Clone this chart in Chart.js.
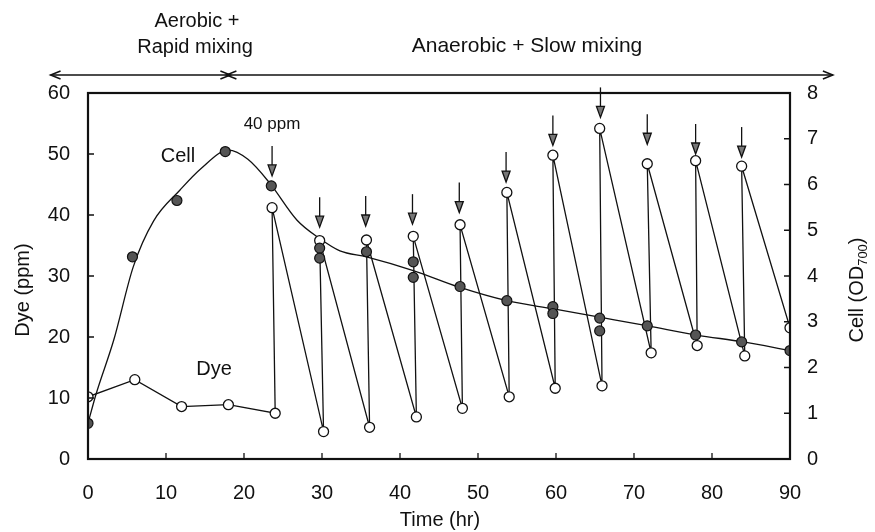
<!DOCTYPE html>
<html>
<head>
<meta charset="utf-8">
<script src="https://cdn.jsdelivr.net/npm/chart.js@4.4.0/dist/chart.umd.min.js"></script>
<style>
  html, body { margin: 0; padding: 0; background: #fff; }
  #wrap { width: 875px; height: 532px; }
</style>
</head>
<body>
<div id="wrap"><canvas id="c" width="875" height="532"></canvas></div>
<script>
// ---- values ----
// dye (ppm), open circles; each feed time has a low point then the high point after feeding
const dyeTime = [0, 6, 12, 18, 24, 23.6, 30.2, 29.7, 36.1, 35.7, 42.1, 41.7, 48, 47.7, 54, 53.7, 59.9, 59.6, 65.9, 65.6, 72.2, 71.7, 78.1, 77.9, 84.2, 83.8, 90];
const dyePpm  = [10.2, 13.0, 8.6, 8.9, 7.5, 41.2, 4.5, 35.8, 5.2, 35.9, 6.9, 36.5, 8.3, 38.4, 10.2, 43.7, 11.6, 49.8, 12.0, 54.2, 17.4, 48.4, 18.6, 48.9, 16.9, 48.0, 21.5];

// cell (OD700), filled circles
const cellTime = [0, 5.7, 11.4, 17.6, 23.5, 29.7, 29.7, 35.7, 41.7, 41.7, 47.7, 53.7, 59.6, 59.6, 65.6, 65.6, 71.7, 77.9, 83.8, 90];
const cellOd   = [0.78, 4.42, 5.65, 6.72, 5.97, 4.61, 4.39, 4.53, 4.31, 3.97, 3.77, 3.46, 3.33, 3.18, 3.08, 2.80, 2.91, 2.71, 2.56, 2.37];

// smooth cell curve
const curveTime = [0, 1, 3.3, 5.8, 8.4, 11.8, 14.5, 18, 20.5, 23.3, 26.8, 29.7, 32.3, 35.7, 41.7, 47.7, 53.7, 59.7, 65.6, 71.8, 78, 84, 90];
const curveOd   = [0.78, 1.4, 2.6, 4.2, 5.2, 5.88, 6.35, 6.75, 6.55, 6.03, 5.22, 4.82, 4.55, 4.42, 4.12, 3.75, 3.46, 3.28, 3.1, 2.91, 2.71, 2.56, 2.37];

// 40 ppm feed arrows: time and arrow tip (ppm)
const addTime     = [23.6, 29.7, 35.6, 41.6, 47.6, 53.6, 59.6, 65.7, 71.7, 77.9, 83.8];
const arrowTipPpm = [46.4, 38.0, 38.2, 38.5, 40.4, 45.4, 51.4, 56.0, 51.6, 50.0, 49.5];

// top phase bar (hr)
const phaseStart = -4.8, phaseSwitch = 18, phaseEnd = 95.5;

const FONT = '"Liberation Sans", Arial, Helvetica, sans-serif';
const INK = '#111';

function pts(xs, ys) {
    return xs.map((x, i) => ({ x: x, y: ys[i] }));
}

function vHead(ctx, x, y, dir) {
    // open arrow head, dir = 1 points right, -1 points left
    ctx.beginPath();
    ctx.moveTo(x - dir * 10, y - 4);
    ctx.lineTo(x, y);
    ctx.lineTo(x - dir * 10, y + 4);
    ctx.stroke();
}

// frame, inward ticks, feed arrows and the texts
const decor = {
    id: 'decor',
    afterDatasetsDraw(chart) {
        const { ctx, chartArea: a, scales } = chart;
        const x = scales.x, y = scales.y, y1 = scales.y1;
        ctx.save();
        ctx.strokeStyle = INK;
        ctx.fillStyle = INK;

        ctx.lineWidth = 2.2;
        ctx.strokeRect(a.left, a.top, a.right - a.left, a.bottom - a.top);

        ctx.lineWidth = 1.3;
        ctx.beginPath();
        x.ticks.forEach(t => {
            if (t.value <= x.min || t.value >= x.max) return;
            const p = x.getPixelForValue(t.value);
            ctx.moveTo(p, a.bottom); ctx.lineTo(p, a.bottom - 6);
        });
        y.ticks.forEach(t => {
            if (t.value <= y.min || t.value >= y.max) return;
            const p = y.getPixelForValue(t.value);
            ctx.moveTo(a.left, p); ctx.lineTo(a.left + 6, p);
        });
        y1.ticks.forEach(t => {
            if (t.value <= y1.min || t.value >= y1.max) return;
            const p = y1.getPixelForValue(t.value);
            ctx.moveTo(a.right, p); ctx.lineTo(a.right - 6, p);
        });
        ctx.stroke();

        // feed arrows
        addTime.forEach((t, i) => {
            const px = x.getPixelForValue(t);
            const tip = y.getPixelForValue(arrowTipPpm[i]);
            ctx.lineWidth = 1.3;
            ctx.beginPath();
            ctx.moveTo(px, tip - 30);
            ctx.lineTo(px, tip - 9);
            ctx.stroke();
            ctx.beginPath();
            ctx.moveTo(px - 4, tip - 11);
            ctx.lineTo(px + 4, tip - 11);
            ctx.lineTo(px, tip);
            ctx.closePath();
            ctx.fillStyle = '#777';
            ctx.fill();
            ctx.stroke();
        });
        ctx.restore();
    },
    afterDraw(chart) {
        const { ctx, scales } = chart;
        const x = scales.x;
        ctx.save();
        ctx.fillStyle = INK;
        ctx.strokeStyle = INK;
        ctx.textAlign = 'center';
        ctx.textBaseline = 'middle';

        // labels inside the plot
        ctx.font = '20px ' + FONT;
        ctx.fillText('Cell', 178, 156);
        ctx.fillText('Dye', 214, 369);
        ctx.font = '17px ' + FONT;
        ctx.fillText('40 ppm', 272, 124);

        // phase texts
        ctx.font = '20px ' + FONT;
        ctx.fillText('Aerobic +', 197, 21);
        ctx.fillText('Rapid mixing', 195, 47);
        ctx.font = '21px ' + FONT;
        ctx.fillText('Anaerobic + Slow mixing', 527, 46);

        // phase bar
        const barY = 75;
        const xs = x.getPixelForValue(phaseStart);
        const xm = x.getPixelForValue(phaseSwitch);
        const xe = x.getPixelForValue(phaseEnd);
        ctx.lineWidth = 1.5;
        ctx.beginPath();
        ctx.moveTo(xs, barY); ctx.lineTo(xe, barY);
        ctx.stroke();
        vHead(ctx, xs, barY, -1);
        vHead(ctx, xm + 2, barY, 1);
        vHead(ctx, xm - 2, barY, -1);
        vHead(ctx, xe, barY, 1);

        // axis titles
        ctx.font = '20px ' + FONT;
        ctx.fillText('Time (hr)', 440, 520);

        ctx.save();
        ctx.translate(23, 290);
        ctx.rotate(-Math.PI / 2);
        ctx.fillText('Dye (ppm)', 0, 0);
        ctx.restore();

        ctx.save();
        ctx.translate(857, 290);
        ctx.rotate(-Math.PI / 2);
        ctx.textAlign = 'left';
        const big = '20px ' + FONT, small = '13px ' + FONT;
        ctx.font = big;
        const w1 = ctx.measureText('Cell (OD').width;
        const w3 = ctx.measureText(')').width;
        ctx.font = small;
        const w2 = ctx.measureText('700').width;
        let cx = -(w1 + w2 + w3) / 2;
        ctx.font = big;
        ctx.fillText('Cell (OD', cx, 0);
        cx += w1;
        ctx.font = small;
        ctx.fillText('700', cx, 6);
        cx += w2;
        ctx.font = big;
        ctx.fillText(')', cx, 0);
        ctx.restore();

        ctx.restore();
    }
};

const tickFont = { family: FONT, size: 20 };

new Chart(document.getElementById('c'), {
    type: 'scatter',
    data: {
        datasets: [
            {
                label: 'Cell',
                data: pts(cellTime, cellOd),
                yAxisID: 'y1',
                showLine: false,
                pointRadius: 5,
                pointBackgroundColor: '#555',
                pointBorderColor: INK,
                pointBorderWidth: 1.2
            },
            {
                label: 'Dye',
                type: 'line',
                data: pts(dyeTime, dyePpm),
                yAxisID: 'y',
                borderColor: INK,
                borderWidth: 1.3,
                tension: 0,
                fill: false,
                pointRadius: 5,
                pointBackgroundColor: '#fff',
                pointBorderColor: INK,
                pointBorderWidth: 1.3
            },
            {
                label: 'Cell curve',
                type: 'line',
                data: pts(curveTime, curveOd),
                yAxisID: 'y1',
                borderColor: INK,
                borderWidth: 1.3,
                pointRadius: 0,
                fill: false,
                cubicInterpolationMode: 'monotone'
            }
        ]
    },
    options: {
        responsive: false,
        animation: false,
        devicePixelRatio: 1,
        layout: { padding: { top: 93, left: 0, right: 0, bottom: 0 } },
        plugins: {
            legend: { display: false },
            tooltip: { enabled: false }
        },
        scales: {
            x: {
                type: 'linear',
                min: 0, max: 90,
                grid: { display: false, drawTicks: false },
                border: { display: false },
                ticks: { stepSize: 10, padding: 22, color: INK, font: tickFont, maxRotation: 0, autoSkip: false },
                afterFit: s => { s.height = 73; }
            },
            y: {
                position: 'left',
                min: 0, max: 60,
                grid: { display: false, drawTicks: false },
                border: { display: false },
                ticks: { stepSize: 10, padding: 18, color: INK, font: tickFont },
                afterFit: s => { s.width = 88; }
            },
            y1: {
                position: 'right',
                min: 0, max: 8,
                grid: { display: false, drawTicks: false },
                border: { display: false },
                ticks: { stepSize: 1, padding: 17, color: INK, font: tickFont },
                afterFit: s => { s.width = 85; }
            }
        }
    },
    plugins: [decor]
});
</script>
</body>
</html>
